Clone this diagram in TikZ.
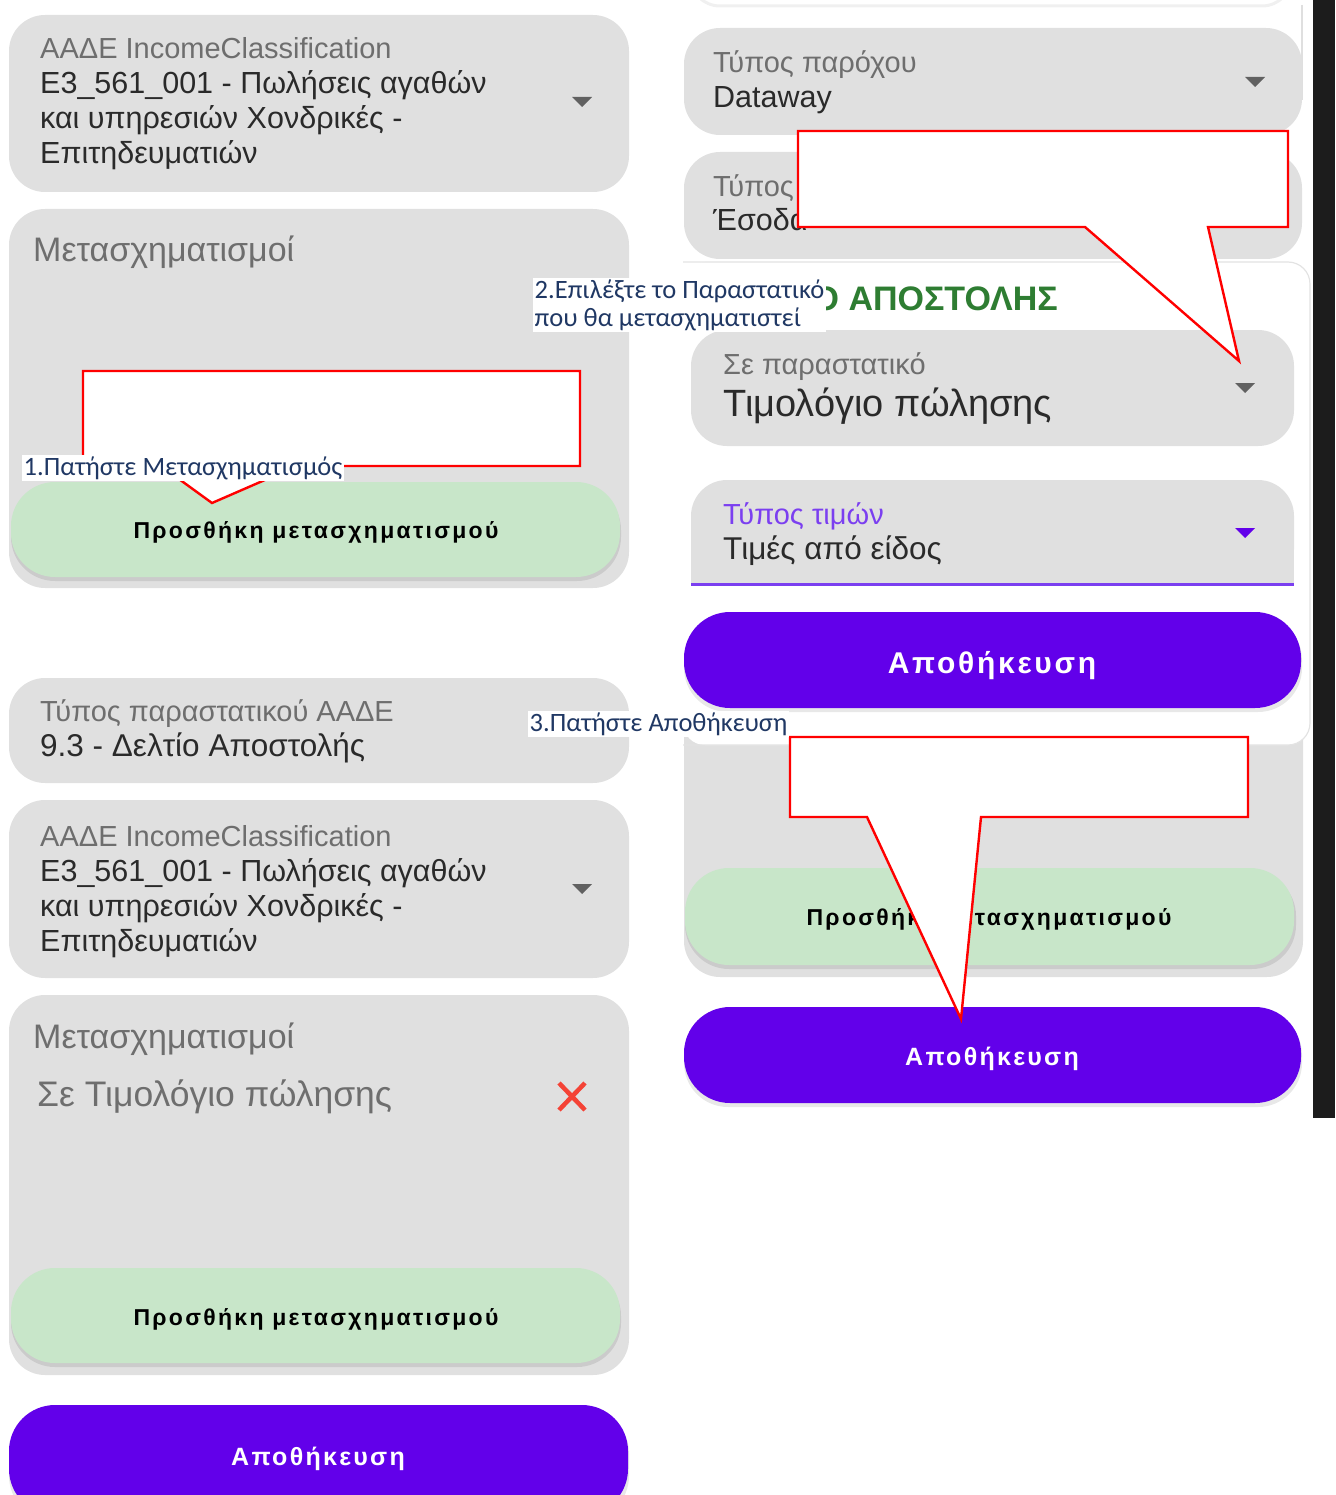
\documentclass[tikz,border=0pt]{standalone}
\usepackage{fontspec}
\setmainfont{Liberation Sans}
\newfontfamily\callfont{Carlito}
\definecolor{cardgray}{HTML}{E0E0E0}
\definecolor{labgray}{HTML}{6E6E6E}
\definecolor{valdark}{HTML}{2A2A2A}
\definecolor{btngreen}{HTML}{C8E6C9}
\definecolor{btnpurple}{HTML}{6200EA}
\definecolor{lilac}{HTML}{7B3FF0}
\definecolor{titlegreen}{HTML}{2E7D32}
\definecolor{noteblue}{HTML}{203864}
\definecolor{arrgray}{HTML}{616161}
\definecolor{xred}{HTML}{F44336}
\definecolor{darkbar}{HTML}{1C1C1C}
\begin{document}
\begin{tikzpicture}[x=1pt,y=-1pt,
  card/.style={fill=cardgray, rounded corners=36},
  greenbtn/.style={fill=btngreen, rounded corners=44},
  purplebtn/.style={fill=btnpurple, rounded corners=46},
  btnshadow/.style={fill=black, opacity=0.09, rounded corners=44},
  lab/.style={anchor=base west, inner sep=0, text=labgray, font=\fontsize{29}{34}\selectfont},
  val/.style={anchor=base west, inner sep=0, text=valdark, font=\fontsize{30.5}{35}\selectfont},
  gbtxt/.style={anchor=base, inner sep=0, text=black, font=\fontsize{23}{27}\selectfont\bfseries\addfontfeatures{LetterSpace=10}},
  pbtxt/.style={anchor=base, inner sep=0, text=white, font=\fontsize{25}{30}\selectfont\bfseries\addfontfeatures{LetterSpace=9}},
  callout/.style={draw=red, fill=white, line width=2.4pt, line join=miter},
  note/.style={fill=white, inner sep=1.5pt, text=noteblue, font=\callfont\fontsize{26.5}{28}\selectfont, align=left},
  ddarrow/.style={fill=arrgray}]
\useasboundingbox (0,0) rectangle (1335,1495);
\clip (0,0) rectangle (1335,1495);

% ================= LEFT COLUMN =================
% card 1
\fill[card] (9,15) rectangle (629,192);
\node[lab] (c1l) at (40,59) {ΑΑΔΕ IncomeClassification};
\node[val] (c1a) at (40,94) {E3\_561\_001 - Πωλήσεις αγαθών};
\node[val] (c1b) at (40,129) {και υπηρεσιών Χονδρικές -};
\node[val] (c1c) at (40,164) {Επιτηδευματιών};
\fill[ddarrow] (572,97) -- (592,97) -- (582,107) -- cycle;

% card 2
\fill[card] (9,209) rectangle (629,588);
\node[lab, font=\fontsize{34}{38}\selectfont] (c2l) at (33,262) {Μετασχηματισμοί};
\fill[btnshadow] (11,486) rectangle (621,581);
\fill[greenbtn] (11,482) rectangle (620,577);
\node[gbtxt] (g1) at (316,538) {Προσθήκη μετασχηματισμού};

% card 3
\fill[card] (9,678) rectangle (629,783);
\node[lab] (c3l) at (40,721) {Τύπος παραστατικού ΑΑΔΕ};
\node[val, font=\fontsize{31.5}{36}\selectfont] (c3v) at (40,756) {9.3 - Δελτίο Αποστολής};

% card 4
\fill[card] (9,800) rectangle (629,978);
\node[lab] (c4l) at (40,846) {ΑΑΔΕ IncomeClassification};
\node[val] (c4a) at (40,881) {E3\_561\_001 - Πωλήσεις αγαθών};
\node[val] (c4b) at (40,916) {και υπηρεσιών Χονδρικές -};
\node[val] (c4c) at (40,951) {Επιτηδευματιών};
\fill[ddarrow] (572,884) -- (592,884) -- (582,894) -- cycle;

% card 5
\fill[card] (9,995) rectangle (629,1375);
\node[lab, font=\fontsize{34}{38}\selectfont] (c5l) at (33,1048) {Μετασχηματισμοί};
\node[lab, font=\fontsize{35.5}{40}\selectfont] (c5v) at (37,1106) {Σε Τιμολόγιο πώλησης};
\draw[xred, line width=4.5pt] (559,1083) -- (585,1110) (585,1083) -- (559,1110);
\fill[btnshadow] (11,1272) rectangle (621,1367);
\fill[greenbtn] (11,1268) rectangle (620,1363);
\node[gbtxt] (g2) at (316,1325) {Προσθήκη μετασχηματισμού};

% save button bottom-left
\fill[btnshadow] (9,1409) rectangle (629,1520);
\fill[purplebtn] (9,1405) rectangle (628,1515);
\node[pbtxt] (p3) at (318,1465) {Αποθήκευση};

% ================= RIGHT COLUMN =================
% top partial card
\draw[gray!12, line width=3pt, fill=white, rounded corners=30] (690,-60) rectangle (1292,6);
\draw[gray!25, line width=1.2pt] (1302,5) -- (1302,100);
% dark bar
\fill[darkbar] (1313,0) rectangle (1335,1118);

% card provider
\fill[card] (684,28) rectangle (1302,135);
\node[lab] (r1l) at (713,73) {Τύπος παρόχου};
\node[val] (r1v) at (713,108) {Dataway};
\fill[ddarrow] (1245,77) -- (1265,77) -- (1255,87) -- cycle;

% card income type
\fill[card] (684,152) rectangle (1302,259);
\node[lab] (r2l) at (713,197) {Τύπος};
\node[val] (r2v) at (713,231) {Έσοδα};

% gray card behind panel (transformations)
\fill[card] (684,640) rectangle (1303,977);
\fill[btnshadow] (685,872) rectangle (1296,969);
\fill[greenbtn] (685,868) rectangle (1294,965);
\node[gbtxt] (g3) at (989,925) {Προσθήκη μετασχηματισμού};

% white dialog panel
\fill[white, rounded corners=22] (683,262) rectangle (1310,745);
\draw[gray!22, line width=1.2pt, rounded corners=22] (683,262) -- (1310,262) -- (1310,745) -- (683,745);
\node[anchor=base east, inner sep=0, text=titlegreen, font=\fontsize{34}{40}\selectfont\bfseries] (title) at (1058,311) {Ο ΑΠΟΣΤΟΛΗΣ};

% card "Σε παραστατικό"
\fill[card] (691,330) rectangle (1294,446);
\node[lab] (r3l) at (723,374) {Σε παραστατικό};
\node[val, font=\fontsize{38}{42}\selectfont] (r3v) at (723,416) {Τιμολόγιο πώλησης};
\fill[ddarrow] (1235,383) -- (1255,383) -- (1245,393) -- cycle;

% card "Τύπος τιμών"
\fill[card] (691,480) rectangle (1294,585);
\fill[cardgray] (691,540) rectangle (1294,585);
\draw[lilac, line width=3pt] (691,584) -- (1294,584);
\node[lab, text=lilac] (r4l) at (723,524) {Τύπος τιμών};
\node[val, font=\fontsize{31.5}{36}\selectfont] (r4v) at (723,559) {Τιμές από είδος};
\fill[btnpurple] (1235,528) -- (1255,528) -- (1245,538) -- cycle;

% save button (dialog)
\fill[btnshadow] (684,616) rectangle (1302,712);
\fill[purplebtn] (684,612) rectangle (1301,708);
\node[pbtxt, font=\fontsize{30}{34}\selectfont\bfseries\addfontfeatures{LetterSpace=9}] (p1) at (992,673) {Αποθήκευση};

% save button (lower)
\fill[btnshadow] (684,1011) rectangle (1302,1107);
\fill[purplebtn] (684,1007) rectangle (1301,1103);
\node[pbtxt] (p2) at (992,1065) {Αποθήκευση};

% ================= CALLOUTS =================
\draw[callout] (83,371) -- (580,371) -- (580,466) -- (297,466) -- (212,503) -- (161,466) -- (83,466) -- cycle;
\draw[callout] (798,131) -- (1288,131) -- (1288,227) -- (1208,227) -- (1239,361) -- (1085,227) -- (798,227) -- cycle;
\draw[callout] (790,737) -- (1248,737) -- (1248,817) -- (981,817) -- (961,1019) -- (867,817) -- (790,817) -- cycle;

% notes
\node[note, anchor=north west] (n1) at (22,455) {1.Πατήστε Μετασχηματισμός};
\node[note, anchor=north west] (n2) at (533,278) {2.Επιλέξτε το Παραστατικό\\που θα μετασχηματιστεί};
\node[note, anchor=north west] (n3) at (528,711) {3.Πατήστε Αποθήκευση};
\end{tikzpicture}
\end{document}
